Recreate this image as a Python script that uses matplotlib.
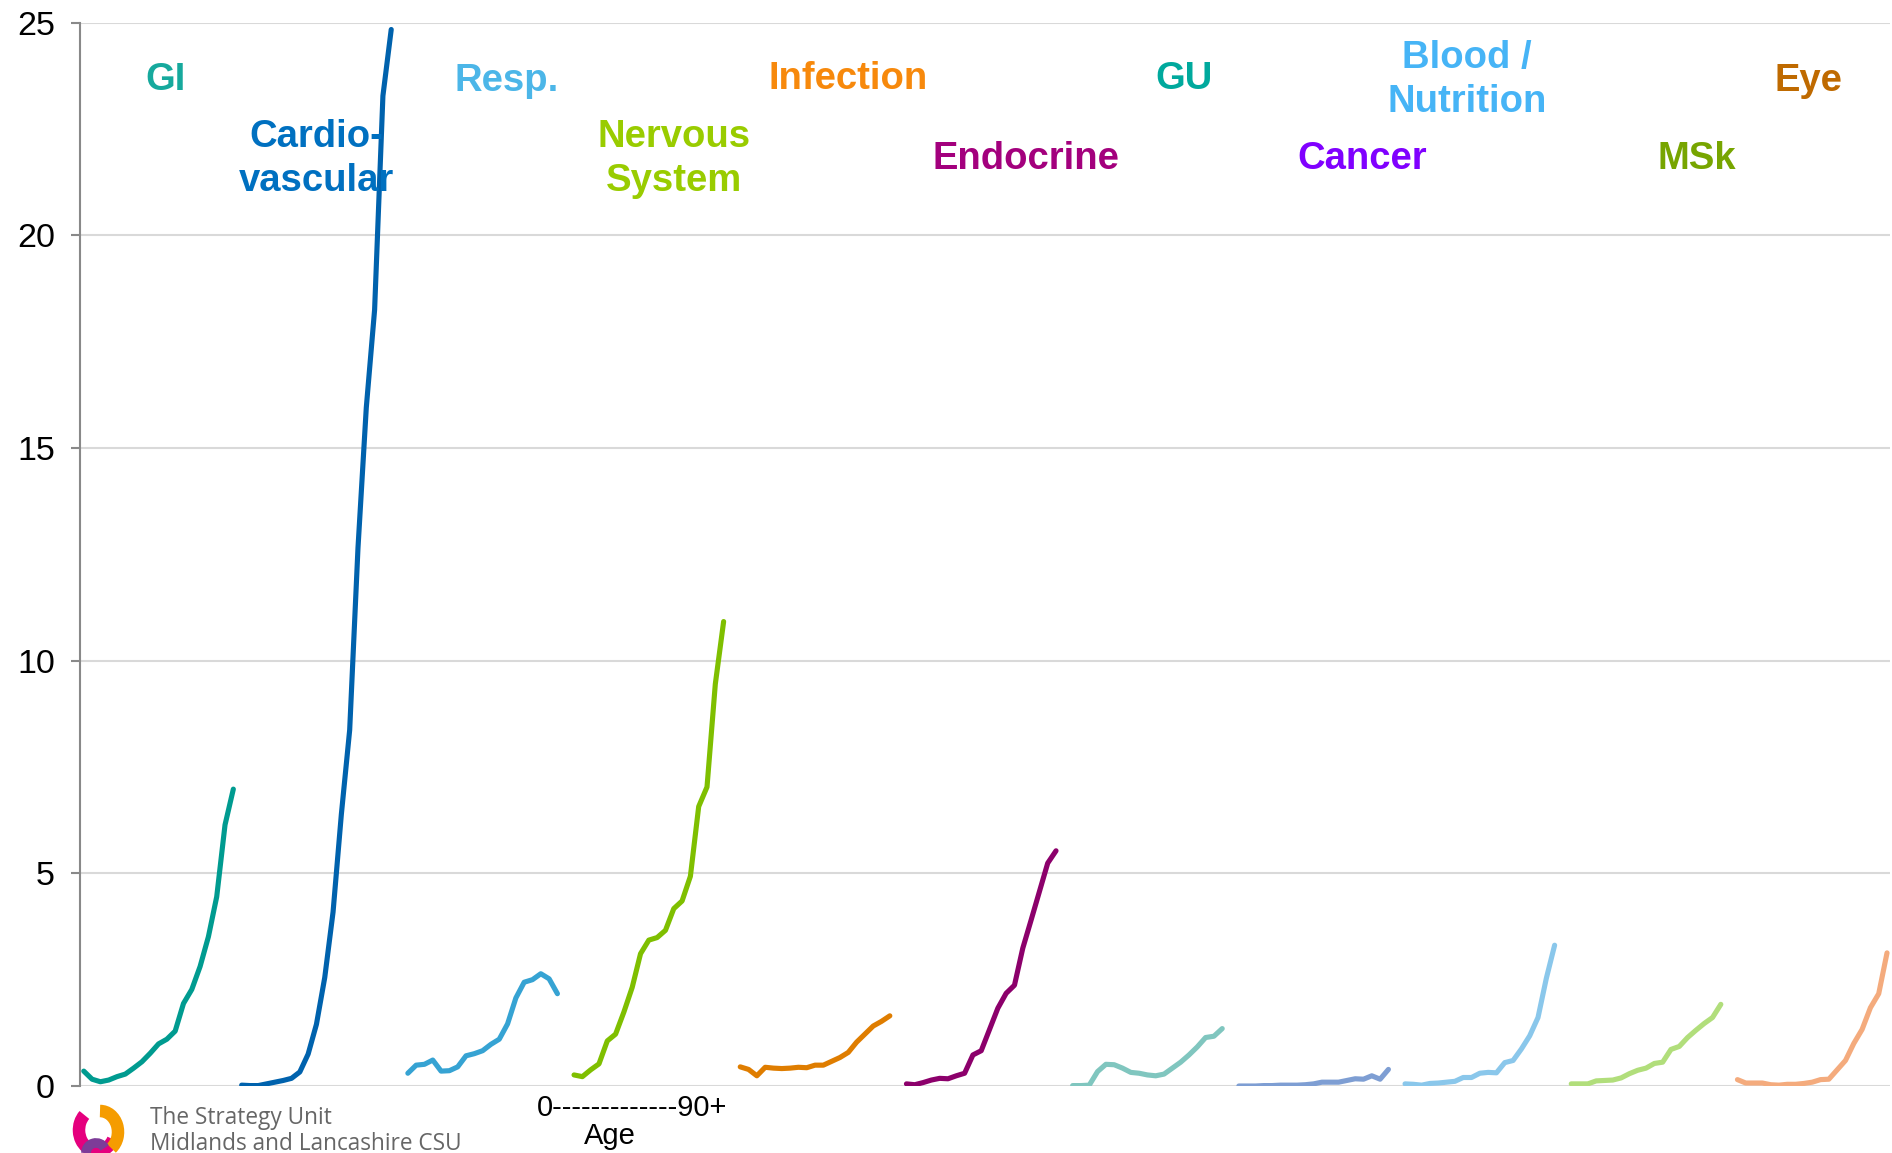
import matplotlib
matplotlib.use("Agg")
import matplotlib.pyplot as plt
from matplotlib.patches import Arc
import numpy as np

# ---------------- data ----------------
categories = ["GI", "Cardio-\nvascular", "Resp.", "Nervous\nSystem", "Infection",
              "Endocrine", "GU", "Cancer", "Blood /\nNutrition", "MSk", "Eye"]

gi = [0.35, 0.16, 0.10, 0.14, 0.22, 0.28, 0.42, 0.57, 0.77, 0.99, 1.10, 1.29, 1.94,
      2.27, 2.81, 3.51, 4.45, 6.14, 6.98]
cardio = [0.02, 0.01, 0.01, 0.05, 0.09, 0.13, 0.18, 0.33, 0.75, 1.45, 2.55, 4.09, 6.39,
          8.37, 12.65, 15.95, 18.25, 23.28, 24.84]
resp = [0.30, 0.49, 0.51, 0.61, 0.35, 0.36, 0.45, 0.71, 0.76, 0.83, 0.98, 1.10, 1.46,
        2.07, 2.44, 2.50, 2.64, 2.52, 2.17]
nervous = [0.26, 0.22, 0.38, 0.52, 1.06, 1.22, 1.74, 2.32, 3.11, 3.43, 3.49, 3.66, 4.17,
           4.35, 4.93, 6.57, 7.03, 9.45, 10.92]
infection = [0.45, 0.39, 0.24, 0.44, 0.42, 0.41, 0.42, 0.44, 0.43, 0.49, 0.49, 0.58, 0.67,
             0.79, 1.03, 1.22, 1.41, 1.52, 1.65]
endocrine = [0.05, 0.03, 0.08, 0.14, 0.18, 0.17, 0.24, 0.30, 0.73, 0.83, 1.33, 1.83, 2.18,
             2.37, 3.24, 3.90, 4.57, 5.24, 5.53]
gu = [0.01, 0.01, 0.02, 0.34, 0.51, 0.50, 0.42, 0.32, 0.30, 0.26, 0.24, 0.28, 0.42,
      0.56, 0.73, 0.92, 1.14, 1.17, 1.35]
cancer = [0.00, 0.00, 0.00, 0.01, 0.01, 0.02, 0.02, 0.02, 0.03, 0.05, 0.09, 0.09, 0.09,
          0.13, 0.17, 0.16, 0.24, 0.16, 0.39]
blood = [0.05, 0.04, 0.02, 0.06, 0.07, 0.09, 0.11, 0.20, 0.20, 0.30, 0.32, 0.31, 0.55,
         0.60, 0.87, 1.18, 1.61, 2.53, 3.31]
msk = [0.05, 0.05, 0.05, 0.12, 0.13, 0.14, 0.19, 0.29, 0.37, 0.42, 0.53, 0.56, 0.86,
       0.93, 1.14, 1.31, 1.47, 1.61, 1.92]
eye = [0.15, 0.07, 0.07, 0.07, 0.03, 0.02, 0.04, 0.04, 0.06, 0.09, 0.15, 0.16, 0.38,
       0.60, 1.00, 1.33, 1.84, 2.17, 3.13]

series = [gi, cardio, resp, nervous, infection, endocrine, gu, cancer, blood, msk, eye]
group_start = [0, 19, 39, 59, 79, 99, 119, 139, 159, 179, 199]

yticks = [0, 5, 10, 15, 20, 25]
age_label = "0-------------90+"
age_title = "Age"
logo_lines = ["The Strategy Unit", "Midlands and Lancashire CSU"]

line_colors = ["#009B90", "#0062AD", "#36A3D3", "#7FBF00", "#DF7D00", "#8C006B",
               "#80C6BF", "#7E9ED3", "#8AC7EB", "#B1DE7B", "#F4AB7D"]
text_colors = ["#16A99D", "#0070C0", "#4CB6E8", "#99CC00", "#F7890C", "#A3007D",
               "#00A99D", "#8000FF", "#46B4F6", "#77A500", "#BF6A00"]
# label centres in figure pixels (x, y from top)
label_pos = [(165, 80), (316, 159), (507, 81), (674, 159), (848, 79), (1026, 159),
             (1184, 79), (1362, 159), (1467, 80), (1697, 159), (1808, 81)]

# ---------------- figure ----------------
W, H = 1892, 1153
fig = plt.figure(figsize=(W / 100, H / 100), dpi=100)
fig.patch.set_facecolor("white")

left_px, right_px, top_px, bottom_px = 79.6, 1890, 22.7, 1086
ax = fig.add_axes([left_px / W, 1 - bottom_px / H, (right_px - left_px) / W,
                   (bottom_px - top_px) / H])
slot = 8.31
ax.set_xlim(-0.5, -0.5 + (right_px - left_px) / slot)
ax.set_ylim(0, 25)

for vals, start, col in zip(series, group_start, line_colors):
    x = start + np.arange(len(vals))
    ax.plot(x, vals, color=col, lw=3.7, solid_capstyle="round",
            solid_joinstyle="round", zorder=3)

ax.set_yticks(yticks)
ax.set_yticklabels([str(t) for t in yticks], fontsize=24.5, family="Liberation Sans")
ax.set_xticks([])
ax.grid(axis="y", color="#D9D9D9", lw=1.5, zorder=0)
ax.set_axisbelow(True)
for s in ["top", "right", "bottom"]:
    ax.spines[s].set_visible(False)
ax.spines["left"].set_color("#898989")
ax.spines["left"].set_linewidth(1.5)
ax.tick_params(axis="y", length=6.7, width=1.5, color="#898989", pad=11,
               labelcolor="black")

# category labels
for lab, (px, py), col in zip(categories, label_pos, text_colors):
    fig.text(px / W, 1 - py / H, lab, ha="center", va="center", color=col,
             fontsize=27.5, fontweight="bold", family="Liberation Sans",
             linespacing=1.27)

# age annotation
fig.text(632 / W, 1 - 1108 / H, age_label, ha="center", va="center",
         fontsize=21, family="Liberation Sans", color="black")
fig.text(610 / W, 1 - 1136 / H, age_title, ha="center", va="center",
         fontsize=21, family="Liberation Sans", color="black")

# logo text
fig.text(150 / W, 1 - 1118 / H, logo_lines[0], ha="left", va="center",
         fontsize=16.3, family="Open Sans", color="#666666")
fig.text(150 / W, 1 - 1144 / H, logo_lines[1], ha="left", va="center",
         fontsize=16.3, family="Open Sans", color="#666666")

# logo knot (approximate)
lax = fig.add_axes([40 / W, 0, 110 / W, 60 / H])
lax.set_xlim(40, 150)
lax.set_ylim(1153, 1093)
lax.set_aspect("equal")
lax.axis("off")
lax.add_patch(Arc((86, 1172), 70, 62, theta1=15, theta2=180, color="#8CC63F", lw=9))
lax.add_patch(Arc((118, 1176), 62, 58, theta1=0, theta2=140, color="#1BA6DF", lw=9))
lax.add_patch(Arc((97, 1130), 36, 42, theta1=30, theta2=230, color="#E5007E", lw=9))
lax.add_patch(Arc((100, 1132), 36, 42, theta1=-90, theta2=55, color="#F59C00", lw=9))
lax.add_patch(Arc((96, 1153), 20, 20, theta1=180, theta2=330, color="#7D3C98", lw=7))
lax.add_patch(Arc((112, 1165), 34, 34, theta1=110, theta2=200, color="#009A44", lw=9))

fig.savefig("out.png", dpi=100, facecolor="white")
